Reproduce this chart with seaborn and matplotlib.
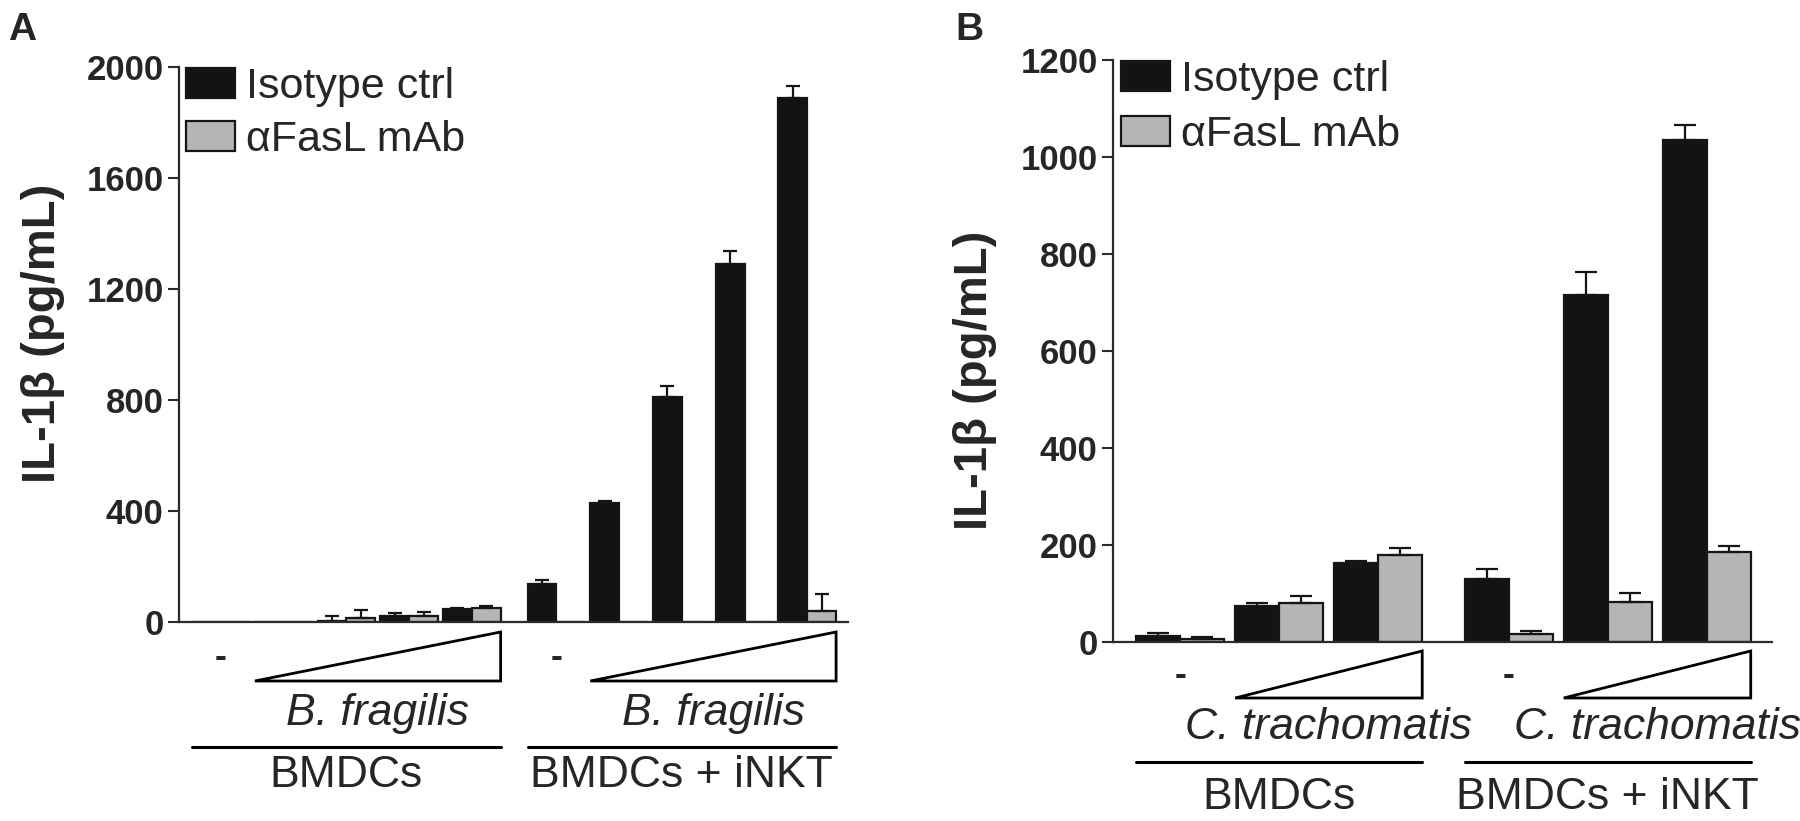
# -*- coding: utf-8 -*-

import pandas as pd
import matplotlib
matplotlib.use("Agg")
import matplotlib.pyplot as plt
import seaborn as sns
from matplotlib.patches import Patch, Polygon
from matplotlib.lines import Line2D

# ---- data -------------------------------------------------------------
cells = ["BMDCs", "BMDCs + iNKT"]
treatments = ["Isotype ctrl", "αFasL mAb"]

# panel A: B. fragilis ("-" then 4 increasing doses, per cell type)
doses_a = ["-", "dose 1", "dose 2", "dose 3", "dose 4"]
iso_a = [0, 0, 5, 22, 47, 137, 430, 812, 1291, 1889]
iso_err_a = [0, 0, 17, 10, 3, 14, 5, 37, 45, 41]
fasl_a = [0, 0, 14, 22, 50, 0, 0, 0, 0, 40]
fasl_err_a = [0, 0, 29, 14, 8, 0, 0, 0, 0, 60]
yticks_a = [0, 400, 800, 1200, 1600, 2000]

# panel B: C. trachomatis ("-" then 2 increasing doses, per cell type)
doses_b = ["-", "dose 1", "dose 2"]
iso_b = [12, 74, 163, 130, 715, 1035]
iso_err_b = [7, 6, 4, 20, 48, 30]
fasl_b = [6, 80, 179, 17, 82, 186]
fasl_err_b = [4, 15, 15, 6, 19, 12]
yticks_b = [0, 200, 400, 600, 800, 1000, 1200]

colors = ["#131313", "#b5b5b5"]
edge = "#151515"


def make_frame(doses, iso, fasl, cell_gap):
    """Long table with a numeric x position for every group."""
    rows = []
    n = len(doses)
    for c, cell in enumerate(cells):
        for d, dose in enumerate(doses):
            k = c * n + d
            x = c * (n + cell_gap) + d
            rows.append({"x": x, "cell": cell, "dose": dose,
                         "treatment": treatments[0], "value": iso[k]})
            rows.append({"x": x, "cell": cell, "dose": dose,
                         "treatment": treatments[1], "value": fasl[k]})
    return pd.DataFrame(rows)


def below(ax, px):
    """Offset in axes fraction for px pixels under the x axis."""
    fig = ax.figure
    h = ax.get_position().height * fig.get_figheight() * fig.dpi
    return -px / h


def draw_panel(ax, df, errs, doses, yticks, species, width, capsize, lay):
    sns.barplot(data=df, x="x", y="value", hue="treatment",
                hue_order=treatments, palette=colors, native_scale=True,
                width=width, gap=0, errorbar=None, edgecolor=edge,
                linewidth=1.6, saturation=1, legend=False, ax=ax)

    # upper-only error bars on top of every bar
    for cont, err in zip(ax.containers, errs):
        for bar, e in zip(sorted(cont, key=lambda b: b.get_x()), err):
            if e <= 0:
                continue
            xc = bar.get_x() + bar.get_width() / 2
            ax.errorbar(xc, bar.get_height(), yerr=[[0], [e]], fmt="none",
                        ecolor=edge, elinewidth=1.6, capsize=capsize,
                        capthick=1.6, zorder=1)

    n = len(doses)
    xs = sorted(df["x"].unique())
    half = width / 2
    ax.set_xlim(xs[0] - lay["left"], xs[-1] + lay["right"])
    ax.set_ylim(yticks[0], yticks[-1])
    ax.set_yticks(yticks, [str(t) for t in yticks], fontweight="bold")
    ax.set_xticks([])
    ax.set_xlabel("")
    ax.set_ylabel("IL-1β (pg/mL)", fontsize=34, fontweight="bold")
    ax.yaxis.set_label_coords(lay["ylab_x"], lay["ylab_y"])
    ax.tick_params(axis="y", length=8, width=1.5, labelsize=25, pad=3,
                   color="#2a2a2a")
    sns.despine(ax=ax)
    for s in ["left", "bottom"]:
        ax.spines[s].set_linewidth(1.6)
        ax.spines[s].set_color("#2a2a2a")

    tr = ax.get_xaxis_transform()
    for c, cell in enumerate(cells):
        group = xs[c * n:(c + 1) * n]
        # "-" under the untreated group
        ax.text(group[0], below(ax, lay["dash"]), "-", transform=tr,
                ha="center", va="center", fontsize=26, fontweight="bold")
        # dose triangle
        x0, x1 = group[1] - half, group[-1] + half
        tri = Polygon([(x0, below(ax, lay["tri_bot"])),
                       (x1, below(ax, lay["tri_bot"])),
                       (x1, below(ax, lay["tri_top"]))],
                      closed=True, fill=False, edgecolor="black", lw=2,
                      transform=tr, clip_on=False)
        ax.add_patch(tri)
        ax.text((x0 + x1) / 2, below(ax, lay["species"]), species,
                transform=tr, ha="center", va="center", fontsize=32,
                fontstyle="italic")
        # cell type bracket line and label
        l0, l1 = group[0] - half, group[-1] + half
        ax.add_line(Line2D([l0, l1], [below(ax, lay["line"])] * 2,
                           transform=tr, color="black", lw=2.2,
                           clip_on=False))
        ax.text((l0 + l1) / 2, below(ax, lay["cell"]), cell, transform=tr,
                ha="center", va="center", fontsize=32)

    handles = [Patch(facecolor=col, edgecolor=edge, linewidth=1.6, label=t)
               for col, t in zip(colors, treatments)]
    ax.legend(handles=handles, loc="upper left",
              bbox_to_anchor=lay["legend"], frameon=False, fontsize=31,
              handlelength=1.15, handleheight=0.7, handletextpad=0.25,
              labelspacing=lay["lspace"], borderaxespad=0, borderpad=0)


if __name__ == "__main__":
    sns.set_style("ticks")
    plt.rcParams["font.family"] = ["Liberation Sans", "DejaVu Sans"]

    W, H = 1800, 821
    fig = plt.figure(figsize=(W / 100, H / 100), dpi=100)

    # axes rectangles in figure pixels: left, zero line, right, top
    ax_a = fig.add_axes([179 / W, (H - 622) / H, 669 / W, 555 / H])
    ax_b = fig.add_axes([1113 / W, (H - 642) / H, 659 / W, 582 / H])

    df_a = make_frame(doses_a, iso_a, fasl_a, 0.35)
    df_b = make_frame(doses_b, iso_b, fasl_b, 0.32)

    draw_panel(ax_a, df_a, [iso_err_a, fasl_err_a], doses_a, yticks_a,
               "B. fragilis", 0.92, 5,
               {"left": 0.67, "right": 0.65, "ylab_x": -0.17,
                "ylab_y": 0.52, "dash": 35, "tri_top": 10, "tri_bot": 59,
                "species": 91, "line": 125, "cell": 153,
                "legend": (0.01, 1.0), "lspace": 0.3})
    draw_panel(ax_b, df_b, [iso_err_b, fasl_err_b], doses_b, yticks_b,
               "C. trachomatis", 0.89, 8,
               {"left": 0.68, "right": 0.66, "ylab_x": -0.176,
                "ylab_y": 0.45, "dash": 33, "tri_top": 9, "tri_bot": 56,
                "species": 85, "line": 120, "cell": 155,
                "legend": (0.012, 1.0), "lspace": 0.35})

    fig.text(8 / W, 1 - 12 / H, "A", fontsize=28, fontweight="bold",
             va="top", ha="left")
    fig.text(955 / W, 1 - 12 / H, "B", fontsize=28, fontweight="bold",
             va="top", ha="left")

    fig.savefig("out.png", dpi=100)
